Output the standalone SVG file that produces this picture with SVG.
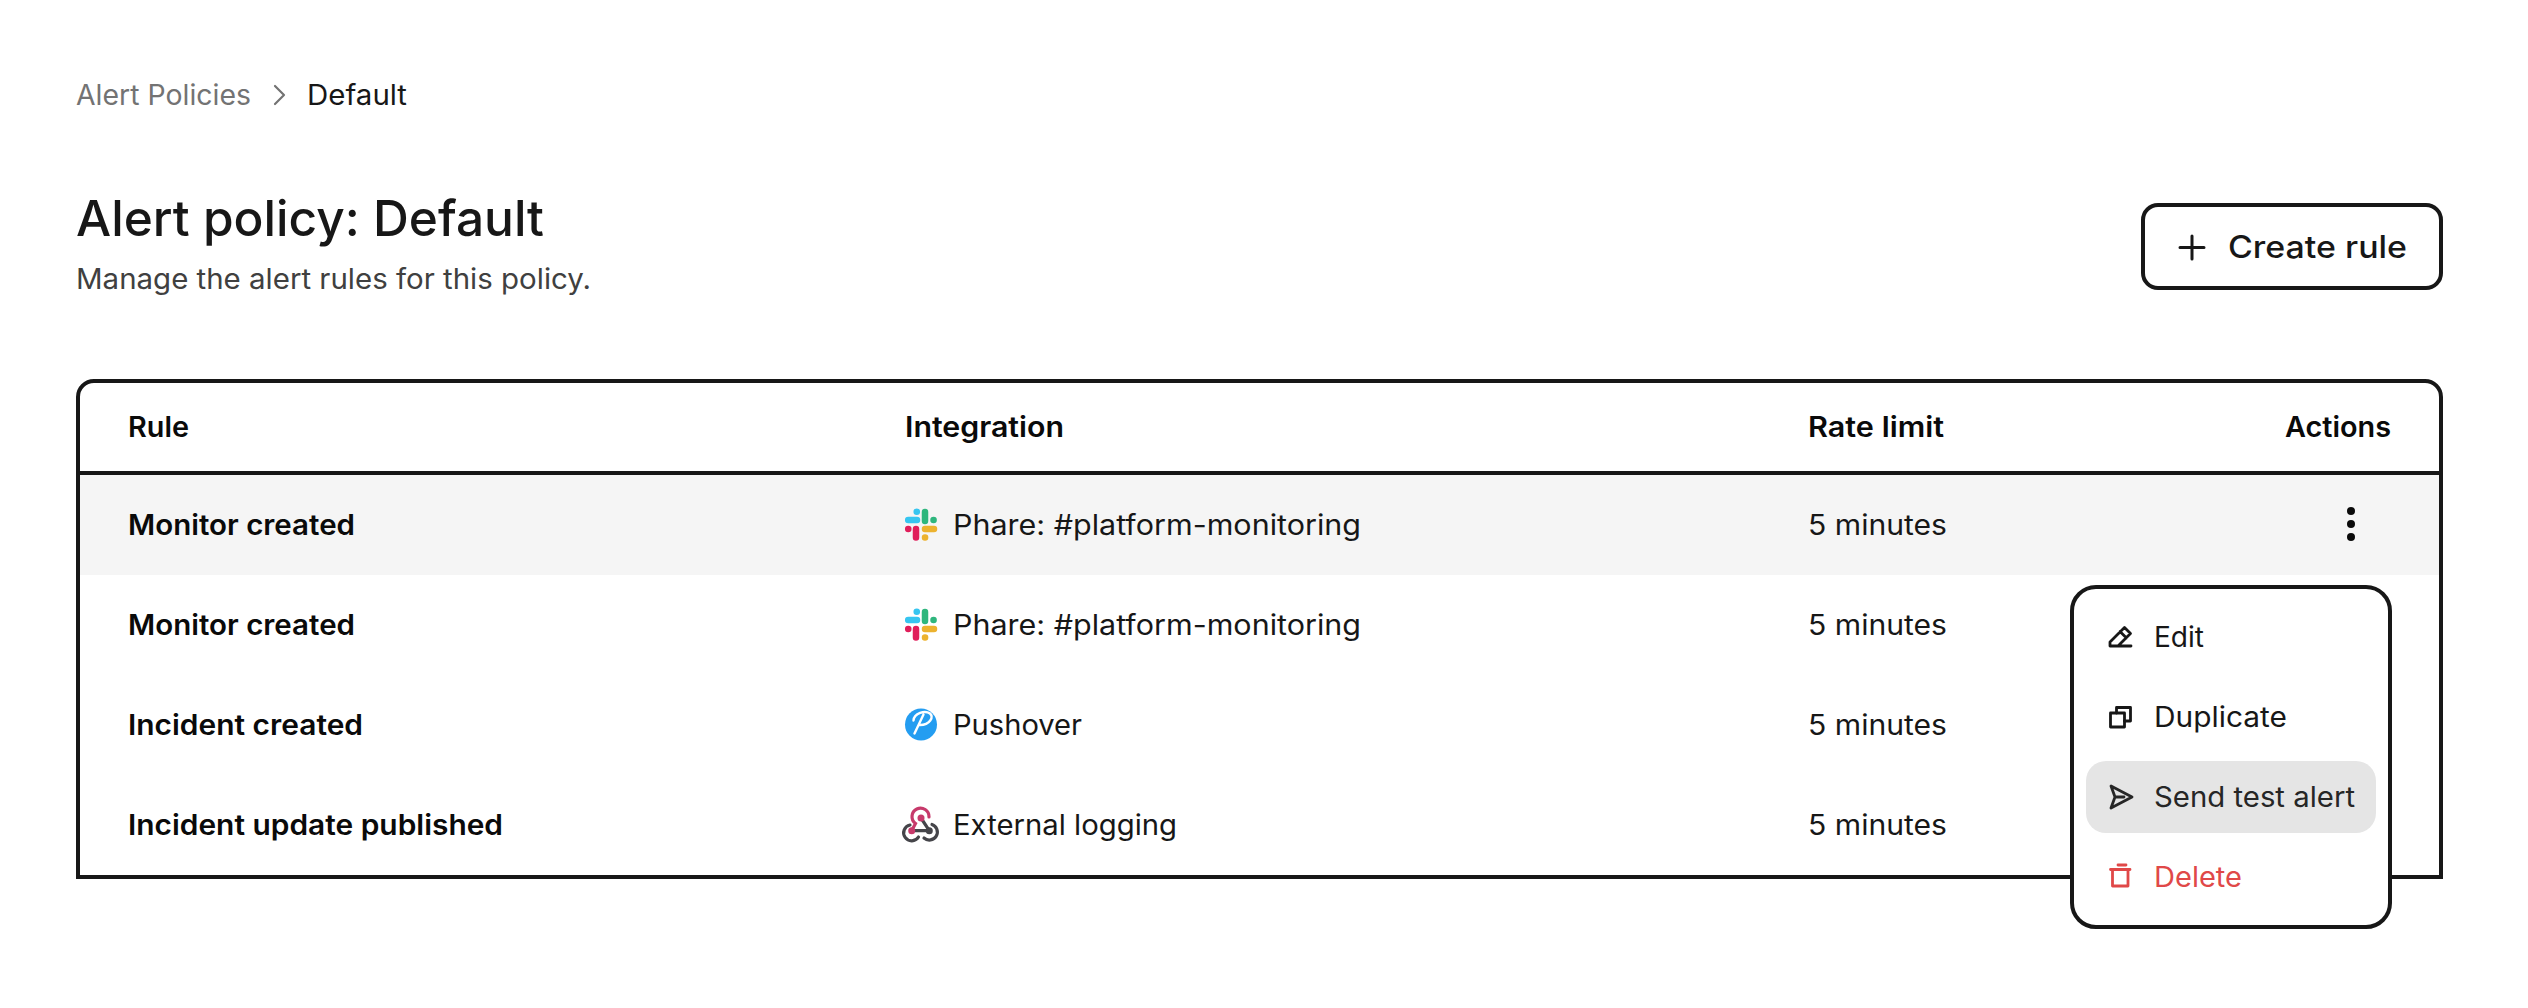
<svg xmlns="http://www.w3.org/2000/svg" xmlns:xlink="http://www.w3.org/1999/xlink" width="2528" height="1008" viewBox="0 0 2528 1008">
<style>
text{font-family:"Inter","Noto Sans","Liberation Sans",sans-serif;font-size:28px;fill:#171717}
.b{font-weight:600;fill:#0a0a0a}
.ic{fill:none;stroke:#171717;stroke-width:2.8;stroke-linecap:round;stroke-linejoin:round}
.sl{fill:none;stroke-width:6.5;stroke-linecap:round}
.wh{fill:none;stroke-width:3.2;stroke-linecap:round}
</style>
<defs>
<g id="slack">
<path class="sl" stroke="#36c5f0" d="M908.200 520H917M916.700 511.700h.1"/>
<path class="sl" stroke="#2eb67d" d="M925 512V521M933.500 520h.1"/>
<path class="sl" stroke="#e01e5a" d="M916 529V537.500M908.200 529h.1"/>
<path class="sl" stroke="#ecb22e" d="M925 529H934M925 537.500h.1"/>
</g>
</defs>
<rect width="2528" height="1008" fill="#fff"/>

<g id="breadcrumb">
<text x="76" y="105" textLength="175" lengthAdjust="spacingAndGlyphs" style="fill:#737373">Alert Policies</text>
<path d="M275 86L284 95L275 104" fill="none" stroke="#737373" stroke-width="2.200" stroke-linecap="round" stroke-linejoin="round"/>
<text x="307" y="105" textLength="100" lengthAdjust="spacingAndGlyphs">Default</text>
</g>

<g id="header">
<text x="76" y="236" textLength="468" lengthAdjust="spacingAndGlyphs" style="font-size:50px;font-weight:500">Alert policy: Default</text>
<text x="76" y="289" textLength="515" lengthAdjust="spacingAndGlyphs" style="fill:#404040">Manage the alert rules for this policy.</text>
</g>

<g id="create-rule">
<rect x="2143" y="205" width="298" height="83" rx="15" fill="#fff" stroke="#171717" stroke-width="4"/>
<path d="M2192 236V259M2180 247.500H2204" fill="none" stroke="#171717" stroke-width="3" stroke-linecap="round"/>
<text x="2228" y="258" textLength="179" lengthAdjust="spacingAndGlyphs" style="font-size:31px;font-weight:500">Create rule</text>
</g>

<g id="table">
<rect x="78" y="475" width="2363" height="100" fill="#f5f5f5"/>
<path d="M78 877V397A16 16 0 0 1 94 381H2425A16 16 0 0 1 2441 397V877Z" fill="none" stroke="#171717" stroke-width="4"/>
<path d="M78 473H2441" stroke="#171717" stroke-width="4"/>
<g id="table-head">
<text class="b" x="128" y="437" textLength="61" lengthAdjust="spacingAndGlyphs">Rule</text>
<text class="b" x="905" y="437" textLength="159" lengthAdjust="spacingAndGlyphs">Integration</text>
<text class="b" x="1808" y="437" textLength="136" lengthAdjust="spacingAndGlyphs">Rate limit</text>
<text class="b" x="2285" y="437" textLength="106" lengthAdjust="spacingAndGlyphs">Actions</text>
</g>
<g id="row-1">
<text class="b" x="128" y="535" textLength="227" lengthAdjust="spacingAndGlyphs">Monitor created</text>
<use xlink:href="#slack"/>
<text x="953" y="535" textLength="408" lengthAdjust="spacingAndGlyphs">Phare: #platform-monitoring</text>
<text x="1808" y="535" textLength="139" lengthAdjust="spacingAndGlyphs">5 minutes</text>
<circle cx="2351" cy="511" r="4" fill="#0a0a0a"/><circle cx="2351" cy="524" r="4" fill="#0a0a0a"/><circle cx="2351" cy="537" r="4" fill="#0a0a0a"/>
</g>
<g id="row-2">
<text class="b" x="128" y="635" textLength="227" lengthAdjust="spacingAndGlyphs">Monitor created</text>
<use xlink:href="#slack" y="100"/>
<text x="953" y="635" textLength="408" lengthAdjust="spacingAndGlyphs">Phare: #platform-monitoring</text>
<text x="1808" y="635" textLength="139" lengthAdjust="spacingAndGlyphs">5 minutes</text>
</g>
<g id="row-3">
<text class="b" x="128" y="735" textLength="235" lengthAdjust="spacingAndGlyphs">Incident created</text>
<circle cx="921" cy="724.500" r="16" fill="#249df1"/>
<path d="M914.500 733.500L923.500 714.500M913.500 720.500C914 713 925 710 930 713.500C934 717 930 725 920 725" fill="none" stroke="#fff" stroke-width="2.400" stroke-linecap="round"/>
<text x="953" y="735" textLength="129" lengthAdjust="spacingAndGlyphs">Pushover</text>
<text x="1808" y="735" textLength="139" lengthAdjust="spacingAndGlyphs">5 minutes</text>
</g>
<g id="row-4">
<text class="b" x="128" y="835" textLength="375" lengthAdjust="spacingAndGlyphs">Incident update published</text>
<path class="wh" stroke="#45454a" d="M921 818L929.300 830.700H912M910 825A8 8 0 1 0 918.500 837M932 824.500A8 8 0 1 1 924 838"/>
<path class="wh" stroke="#c73a6b" d="M911.700 830.700L915.500 823.500A8.500 8.500 0 1 1 929 817"/>
<circle cx="921" cy="818" r="3.500" fill="#c73a6b"/><circle cx="911.700" cy="830.700" r="3.500" fill="#c73a6b"/><circle cx="929.300" cy="830.700" r="3.500" fill="#45454a"/>
<text x="953" y="835" textLength="224" lengthAdjust="spacingAndGlyphs">External logging</text>
<text x="1808" y="835" textLength="139" lengthAdjust="spacingAndGlyphs">5 minutes</text>
</g>
</g>

<g id="menu">
<rect x="2072" y="587" width="318" height="340" rx="24" fill="#fff" stroke="#171717" stroke-width="4"/>
<rect x="2086" y="761" width="290" height="72" rx="20" fill="#e5e5e5"/>
<g id="menu-edit">
<path class="ic" d="M2110 646V642L2124.500 627.500L2130.500 633.500L2118 646H2110ZM2118 646H2131M2120 631.500L2126.500 638"/>
<text x="2154" y="647" textLength="50" lengthAdjust="spacingAndGlyphs">Edit</text>
</g>
<g id="menu-duplicate">
<rect class="ic" x="2110.500" y="713" width="14" height="14"/>
<path class="ic" d="M2116.500 713V707.500H2130.500V721H2124.500"/>
<text x="2154" y="727" textLength="133" lengthAdjust="spacingAndGlyphs">Duplicate</text>
</g>
<g id="menu-send">
<path class="ic" style="stroke:#262626" d="M2111 786L2132 797L2111 808L2115 797ZM2115 797H2124"/>
<text x="2154" y="807" textLength="201" lengthAdjust="spacingAndGlyphs" style="fill:#262626">Send test alert</text>
</g>
<g id="menu-delete">
<path class="ic" style="stroke:#e04848" d="M2118 865H2126M2110.500 869.500H2130M2112.500 869.500V886H2128V869.500"/>
<text x="2154" y="887" textLength="88" lengthAdjust="spacingAndGlyphs" style="fill:#e04848">Delete</text>
</g>
</g>
</svg>
